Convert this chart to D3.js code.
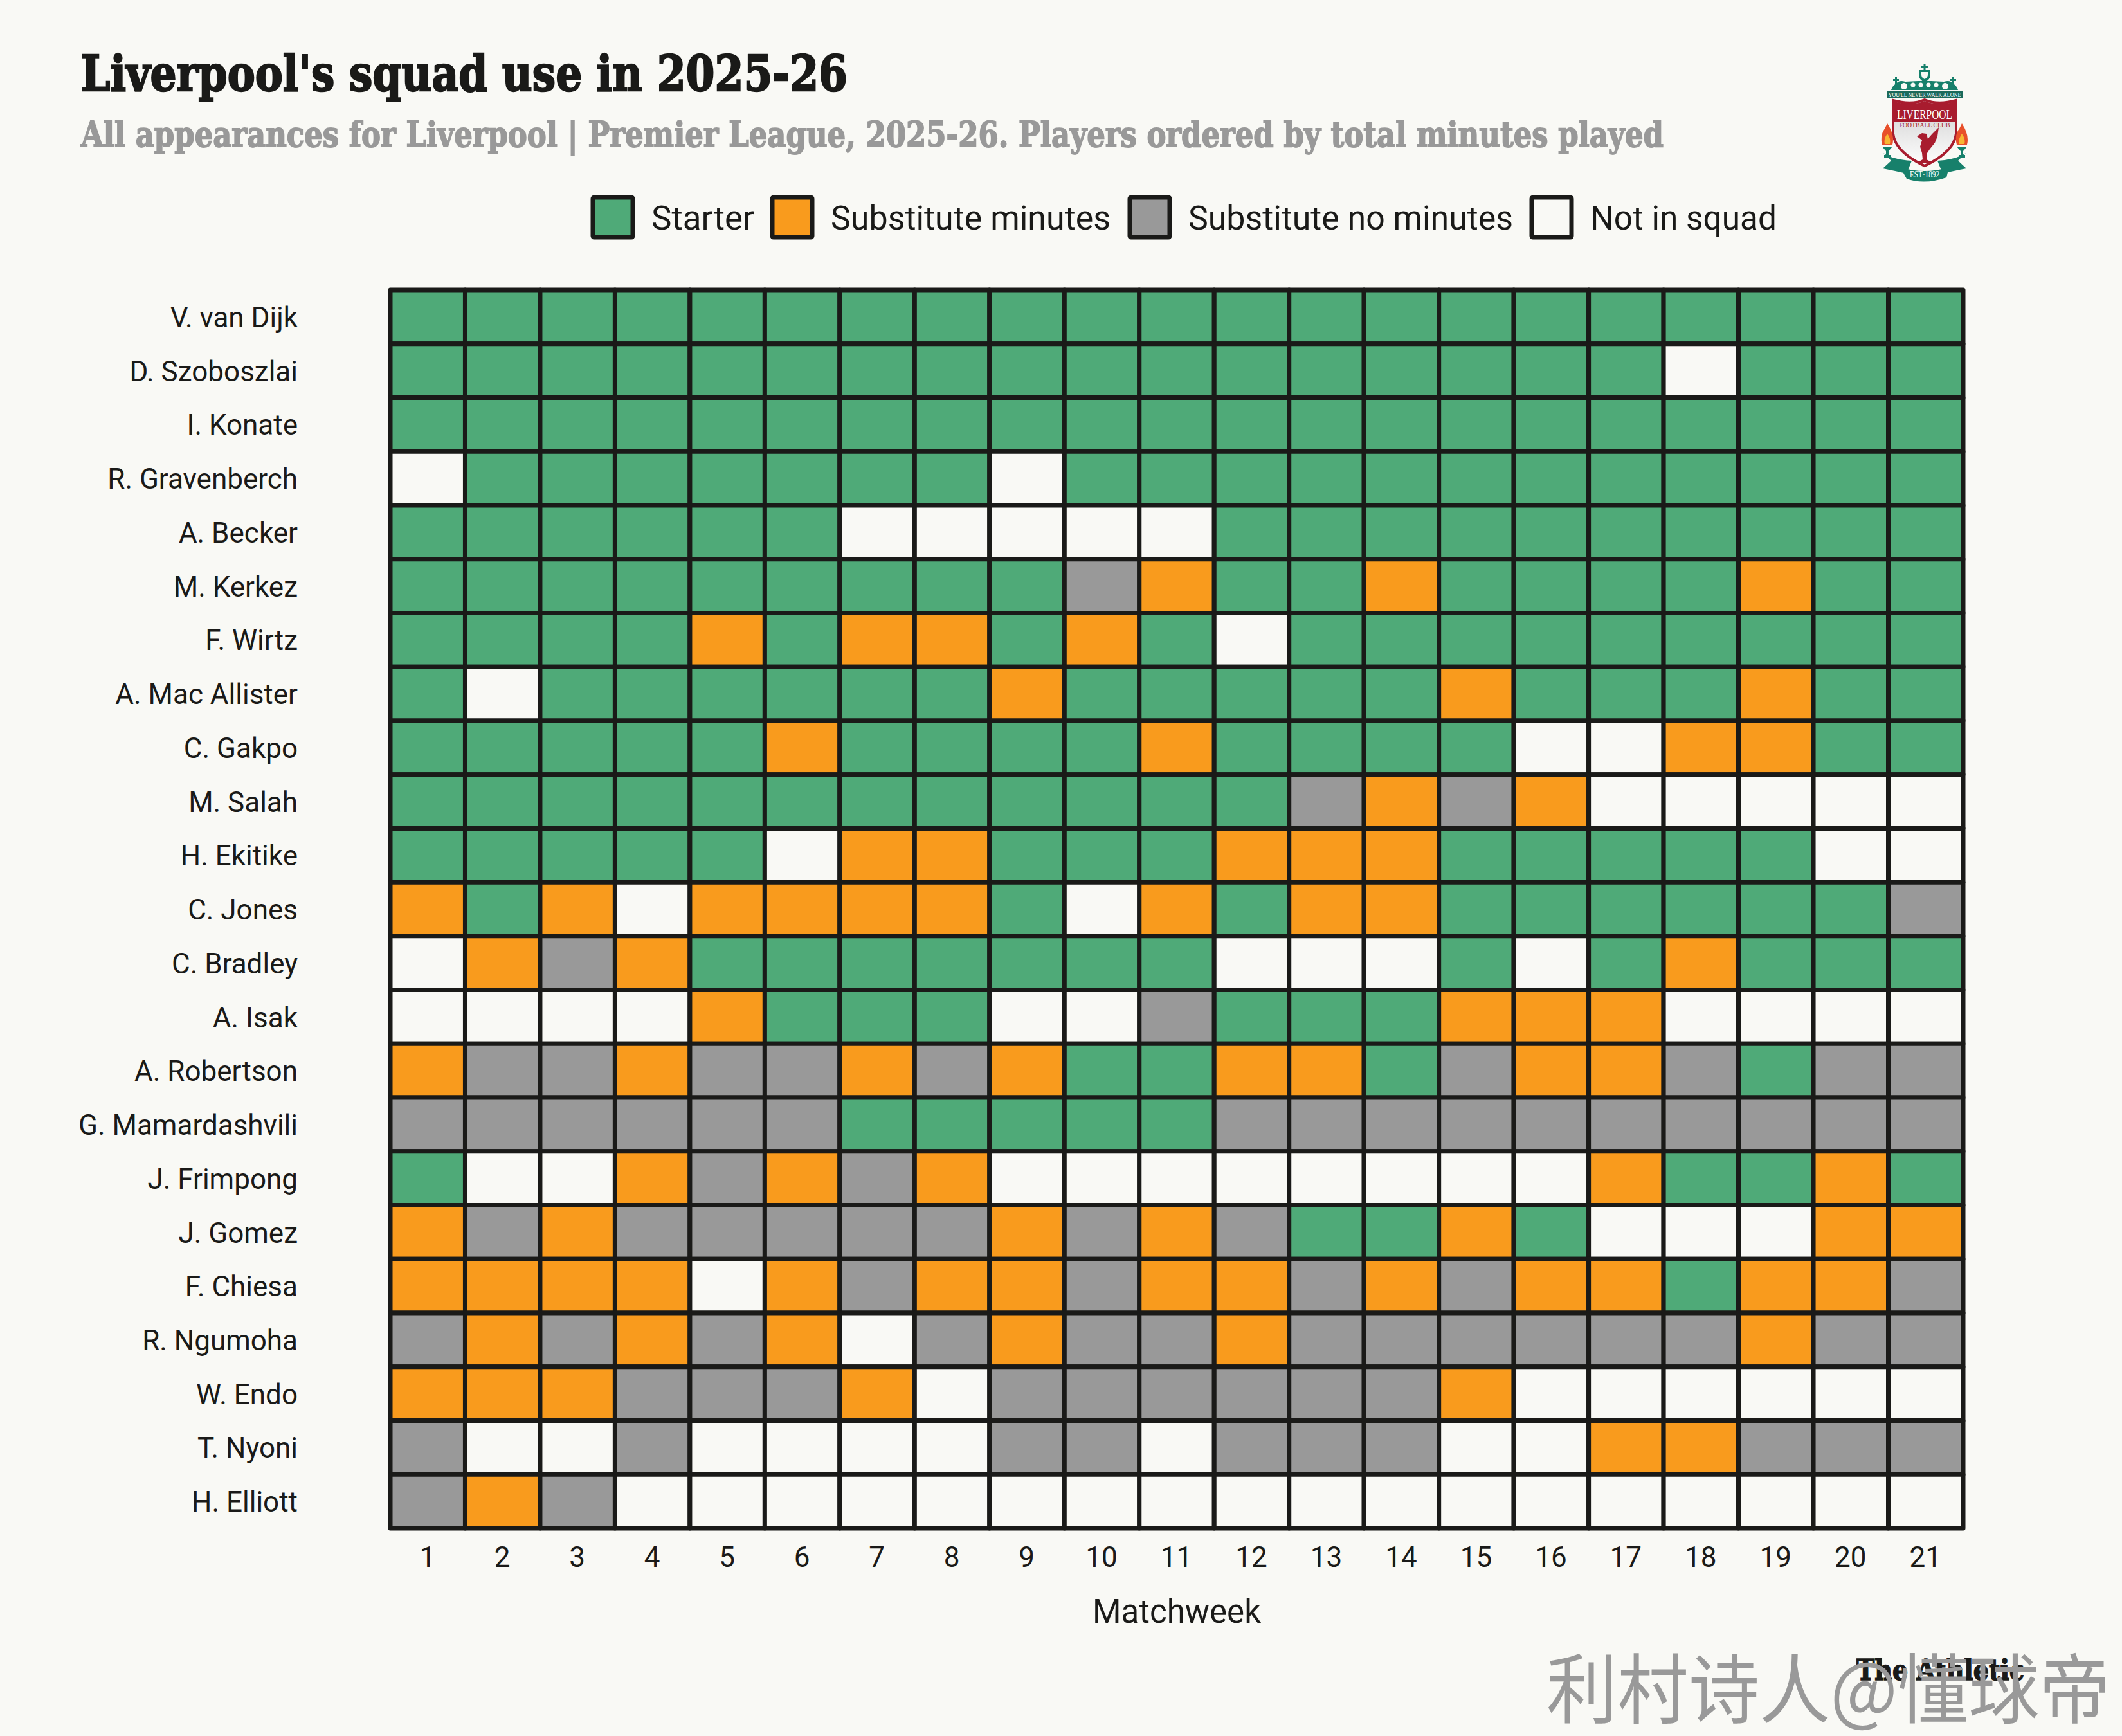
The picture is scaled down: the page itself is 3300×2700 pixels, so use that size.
<!DOCTYPE html>
<html>
<head>
<meta charset="utf-8">
<script src="https://cdn.jsdelivr.net/npm/d3@7"></script>
<style>
  html, body { margin: 0; padding: 0; background: #f9f9f5; }
  svg { display: block; }
</style>
</head>
<body>
<svg id="chart" width="3300" height="2700"></svg>
<script>
const players = ['V. van Dijk', 'D. Szoboszlai', 'I. Konate', 'R. Gravenberch', 'A. Becker', 'M. Kerkez', 'F. Wirtz',
  'A. Mac Allister', 'C. Gakpo', 'M. Salah', 'H. Ekitike', 'C. Jones', 'C. Bradley', 'A. Isak', 'A. Robertson',
  'G. Mamardashvili', 'J. Frimpong', 'J. Gomez', 'F. Chiesa', 'R. Ngumoha', 'W. Endo', 'T. Nyoni', 'H. Elliott'];
const matchweeks = [1, 2, 3, 4, 5, 6, 7, 8, 9, 10, 11, 12, 13, 14, 15, 16, 17, 18, 19, 20, 21];

// S starter, O substitute minutes, G substitute no minutes, W not in squad
const squadUse = [
  'SSSSSSSSSSSSSSSSSSSSS',
  'SSSSSSSSSSSSSSSSSWSSS',
  'SSSSSSSSSSSSSSSSSSSSS',
  'WSSSSSSSWSSSSSSSSSSSS',
  'SSSSSSWWWWWSSSSSSSSSS',
  'SSSSSSSSSGOSSOSSSSOSS',
  'SSSSOSOOSOSWSSSSSSSSS',
  'SWSSSSSSOSSSSSOSSSOSS',
  'SSSSSOSSSSOSSSSWWOOSS',
  'SSSSSSSSSSSSGOGOWWWWW',
  'SSSSSWOOSSSOOOSSSSSWW',
  'OSOWOOOOSWOSOOSSSSSSG',
  'WOGOSSSSSSSWWWSWSOSSS',
  'WWWWOSSSWWGSSSOOOWWWW',
  'OGGOGGOGOSSOOSGOOGSGG',
  'GGGGGGSSSSSGGGGGGGGGG',
  'SWWOGOGOWWWWWWWWOSSOS',
  'OGOGGGGGOGOGSSOSWWWOO',
  'OOOOWOGOOGOOGOGOOSOOG',
  'GOGOGOWGOGGOGGGGGGOGG',
  'OOOGGGOWGGGGGGOWWWWWW',
  'GWWGWWWWGGWGGGWWOOGGG',
  'GOGWWWWWWWWWWWWWWWWWW'
];

const statusKeys = ['S', 'O', 'G', 'W'];
const statusLabels = ['Starter', 'Substitute minutes', 'Substitute no minutes', 'Not in squad'];
const statusColors = ['#4faa78', '#f99b1d', '#999999', '#f9f9f5'];

const ink = '#1a1a18';
const sansFont = 'Roboto, sans-serif';
const slabFont = '"DejaVu Serif", serif';

const svg = d3.select('#chart');

svg.append('rect').attr('width', 3300).attr('height', 2700).attr('fill', '#f9f9f5');

const xScale = d3.scaleBand().domain(matchweeks).range([607, 3053]);
const yScale = d3.scaleBand().domain(players).range([451, 2377]);
const colorScale = d3.scaleOrdinal().domain(statusKeys).range(statusColors);

// title block
svg.append('text')
  .attr('x', 126).attr('y', 141)
  .attr('textLength', 1192).attr('lengthAdjust', 'spacingAndGlyphs')
  .attr('font-family', slabFont).attr('font-weight', 700).attr('font-size', 76)
  .attr('fill', ink).attr('stroke', ink).attr('stroke-width', 2.5)
  .text("Liverpool's squad use in 2025-26");

svg.append('text')
  .attr('x', 126).attr('y', 228)
  .attr('textLength', 2461).attr('lengthAdjust', 'spacingAndGlyphs')
  .attr('font-family', slabFont).attr('font-weight', 700).attr('font-size', 55)
  .attr('fill', '#999999').attr('stroke', '#999999').attr('stroke-width', 1.8)
  .text('All appearances for Liverpool | Premier League, 2025-26. Players ordered by total minutes played');

// legend
const legendX = d3.scaleOrdinal().domain(statusKeys).range([922, 1201, 1757, 2382]);
const legendLengths = d3.scaleOrdinal().domain(statusKeys).range([160, 435, 505, 290]);

const legend = svg.append('g').attr('class', 'legend')
  .selectAll('g').data(statusKeys).join('g')
  .attr('transform', d => `translate(${legendX(d)},307)`);

legend.append('rect')
  .attr('width', 62).attr('height', 62).attr('rx', 2)
  .attr('fill', d => colorScale(d))
  .attr('stroke', ink).attr('stroke-width', 7);

legend.append('text')
  .attr('x', 91).attr('y', 50)
  .attr('textLength', d => legendLengths(d)).attr('lengthAdjust', 'spacingAndGlyphs')
  .attr('font-family', sansFont).attr('font-size', 51)
  .attr('fill', ink)
  .text((d, i) => statusLabels[i]);

// cells
const cells = players.flatMap((player, r) =>
  matchweeks.map((week, c) => ({ player, week, status: squadUse[r][c] })));

svg.append('g').attr('class', 'cells')
  .selectAll('rect').data(cells).join('rect')
  .attr('x', d => xScale(d.week))
  .attr('y', d => yScale(d.player))
  .attr('width', xScale.bandwidth())
  .attr('height', yScale.bandwidth())
  .attr('fill', d => colorScale(d.status))
  .attr('stroke', ink)
  .attr('stroke-width', 7)
  .attr('stroke-linejoin', 'round');

// axes
const axisBottom = d3.axisBottom(xScale).tickSize(0).tickPadding(0);
const axisLeft = d3.axisLeft(yScale).tickSize(0).tickPadding(0);

const gx = svg.append('g').attr('transform', 'translate(-0.5,2437)').call(axisBottom);
gx.select('.domain').remove();
gx.selectAll('text').attr('y', 0).attr('dy', 0)
  .attr('font-family', sansFont).attr('font-size', 44).attr('fill', ink);

const gy = svg.append('g').attr('transform', 'translate(463,2)').call(axisLeft);
gy.select('.domain').remove();
gy.selectAll('text').attr('x', 0).attr('dy', '0.32em')
  .attr('font-family', sansFont).attr('font-size', 44).attr('fill', ink);

svg.append('text')
  .attr('x', 1830).attr('y', 2524)
  .attr('text-anchor', 'middle')
  .attr('font-family', sansFont).attr('font-size', 51)
  .attr('fill', ink)
  .text('Matchweek');

// club crest, simplified
const crest = svg.append('g').attr('transform', 'translate(2993,100)');
const teal = '#17806b', darkTeal = '#1b6a5b', crestRed = '#a81c2e', flameOut = '#e8502a', flameIn = '#f7b733';
const crestSerif = '"Liberation Serif", serif';

const defs = svg.append('defs');
const shieldFill = defs.append('linearGradient').attr('id', 'shieldFill').attr('x1', 0).attr('x2', 0).attr('y1', 0).attr('y2', 1);
shieldFill.append('stop').attr('offset', '0.3').attr('stop-color', '#dddddd');
shieldFill.append('stop').attr('offset', '1').attr('stop-color', '#ffffff');

// cross and small shield
crest.append('path').attr('fill', teal)
  .attr('d', 'M-1.5 0 H1.5 V3 H5 V6 H1.5 V9 H-1.5 V6 H-5 V3 H-1.5 Z');
crest.append('path').attr('fill', teal)
  .attr('d', 'M-9 9 H9 V16 Q9 24 0 28 Q-9 24 -9 16 Z');
crest.append('path').attr('fill', '#f9f9f5').attr('d', 'M-5 12 H5 V16 Q5 21 0 23 Q-5 21 -5 16 Z');

// gate with scrollwork
crest.append('path').attr('fill', teal)
  .attr('d', 'M-10 26 H10 L30 27 Q40 24 44 30 Q50 33 52 40 H-52 Q-50 33 -44 30 Q-40 24 -30 27 Z');
crest.append('g').attr('fill', '#f9f9f5')
  .selectAll('circle').data([-32, -18, -6, 6, 18, 32]).join('circle')
  .attr('cx', d => d).attr('cy', d => Math.abs(d) > 20 ? 34 : 32).attr('r', d => Math.abs(d) > 20 ? 5 : 3.5);
[-1, 1].forEach(side => {
  crest.append('path').attr('fill', teal)
    .attr('d', `M${side * 43} 20 h${side * 3} v3 h${side * 3} v3 h${-side * 3} v9 h${-side * 3} v-9 h${-side * 3} v-3 h${side * 3} Z`);
});

// motto banner
crest.append('rect').attr('x', -59).attr('y', 41).attr('width', 118).attr('height', 12).attr('fill', darkTeal);
crest.append('text').attr('y', 51).attr('text-anchor', 'middle')
  .attr('font-family', crestSerif).attr('font-size', 11).attr('fill', '#ffffff')
  .attr('textLength', 113).attr('lengthAdjust', 'spacingAndGlyphs')
  .text("YOU'LL NEVER WALK ALONE");

// ribbons behind shield
[-1, 1].forEach(side => {
  crest.append('path').attr('fill', teal)
    .attr('d', `M${side * 20} 150 Q${side * 50} 148 ${side * 64} 138 L${side * 52} 150 L${side * 65} 162 Q${side * 45} 166 ${side * 28} 170 Z`);
});

// shield
crest.append('path').attr('fill', 'url(#shieldFill)').attr('stroke', crestRed).attr('stroke-width', 4)
  .attr('d', 'M-49 56 Q-20 64 0 55 Q20 64 49 56 L49 108 Q46 136 0 158 Q-46 136 -49 108 Z');
crest.append('path').attr('fill', crestRed)
  .attr('d', 'M-47 58 Q-20 66 0 57 Q20 66 47 58 L47 90 L-47 90 Z');
crest.append('text').attr('y', 85).attr('text-anchor', 'middle')
  .attr('font-family', crestSerif).attr('font-size', 22).attr('fill', '#ffffff')
  .attr('textLength', 86).attr('lengthAdjust', 'spacingAndGlyphs')
  .text('LIVERPOOL');
crest.append('text').attr('y', 98).attr('text-anchor', 'middle')
  .attr('font-family', crestSerif).attr('font-size', 11).attr('fill', crestRed)
  .attr('textLength', 79).attr('lengthAdjust', 'spacingAndGlyphs')
  .text('FOOTBALL CLUB');

// liver bird
crest.append('path').attr('fill', crestRed)
  .attr('d', 'M-12 112 L-4 107 L3 108 L5 116 L12 108 L22 98 L20 112 L16 122 L8 132 L4 138 L3 148 L12 153 L-12 153 L-3 148 L-4 138 L-7 128 L-4 118 L-8 115 Z');

// torches
[-1, 1].forEach(side => {
  const cx = side * 58;
  crest.append('path').attr('fill', flameOut)
    .attr('d', `M${cx} 92 Q${cx + 12} 110 ${cx + 8} 125 L${cx - 8} 125 Q${cx - 12} 110 ${cx - 4} 100 Z`);
  crest.append('path').attr('fill', flameIn)
    .attr('d', `M${cx} 108 Q${cx + 6} 116 ${cx + 4} 124 L${cx - 4} 124 Q${cx - 6} 116 ${cx} 108 Z`);
  crest.append('path').attr('fill', teal)
    .attr('d', `M${cx - 8} 128 H${cx + 8} L${cx + 2} 135 V141 H${cx + 5} V145 H${cx - 5} V141 H${cx - 2} V135 Z`);
});

// foot scroll
crest.append('path').attr('fill', teal)
  .attr('d', 'M-38 160 Q0 172 38 160 L34 176 Q0 188 -28 178 Z');
crest.append('text').attr('y', 176).attr('text-anchor', 'middle')
  .attr('font-family', crestSerif).attr('font-size', 15).attr('fill', '#ffffff')
  .attr('textLength', 46).attr('lengthAdjust', 'spacingAndGlyphs')
  .text('EST·1892');

// source and watermark
svg.append('text')
  .attr('x', 2887).attr('y', 2613)
  .attr('textLength', 261).attr('lengthAdjust', 'spacingAndGlyphs')
  .attr('font-family', slabFont).attr('font-weight', 700).attr('font-size', 44)
  .attr('fill', ink).attr('stroke', ink).attr('stroke-width', 1.5)
  .text('The Athletic');

svg.append('text')
  .attr('x', 2405).attr('y', 2671)
  .attr('textLength', 877).attr('lengthAdjust', 'spacingAndGlyphs')
  .attr('font-family', '"Noto Sans CJK SC", sans-serif').attr('font-size', 118)
  .attr('fill', '#999999')
  .text('利村诗人@懂球帝');
</script>
</body>
</html>
